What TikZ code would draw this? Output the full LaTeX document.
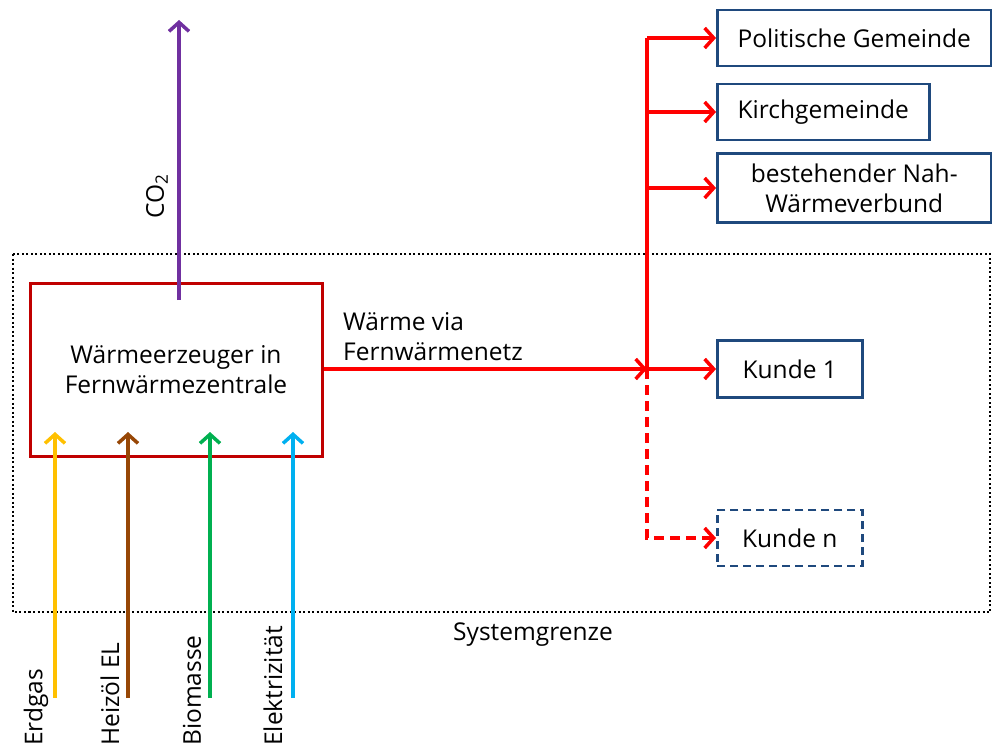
\documentclass[tikz,border=0pt]{standalone}
\usepackage{fontspec}
\setmainfont{Open Sans}
\usetikzlibrary{positioning, arrows.meta}

\definecolor{heatred}{RGB}{255,0,0}
\definecolor{boxred}{RGB}{192,0,0}
\definecolor{custblue}{RGB}{31,73,125}
\definecolor{co2purple}{RGB}{112,48,160}
\definecolor{gasyellow}{RGB}{255,192,0}
\definecolor{oilbrown}{RGB}{151,71,6}
\definecolor{biogreen}{RGB}{0,176,80}
\definecolor{elecblue}{RGB}{0,176,240}

\begin{document}
\begin{tikzpicture}[
    x=1pt,
    y=-1pt,
    >={Straight Barb[length=9pt,width=20pt]},
    font=\fontsize{24.5}{30}\selectfont,
    customer/.style={
        draw=custblue,
        line width=2.5pt,
        align=center,
        inner sep=0pt,
        anchor=west,
    },
    producer/.style={
        draw=boxred,
        line width=3pt,
        align=center,
        minimum width=292pt,
        minimum height=173pt,
    },
    heat/.style={->, draw=heatred, line width=3.5pt},
    feed/.style={->, line width=3.5pt},
    feedtext/.style={rotate=90, anchor=west, inner sep=0pt},
]
\useasboundingbox (0,0) rectangle (992,749);

% --- System boundary ---
\draw[line width=2pt, dash pattern=on 2pt off 2.5pt] (13,254) rectangle (990,612);
\node (grenze) at (533,635) {Systemgrenze};

% --- Heat producer ---
\node[producer] (erz) at (176,370) {Wärmeerzeuger in\\Fernwärmezentrale};

% --- Customers ---
\node[customer, minimum width=274pt, minimum height=56pt] (pg)    at (716,38)  {Politische Gemeinde};
\node[customer, minimum width=212pt, minimum height=56pt] (kg)    at (716,112) {Kirchgemeinde};
\node[customer, minimum width=274pt, minimum height=69pt] (nwv)   at (716,188) {bestehender Nah-\\Wärmeverbund};
\node[customer, minimum width=145pt, minimum height=57pt] (k1)    at (716,369) {Kunde 1};
\node[customer, minimum width=145pt, minimum height=56pt, dash pattern=on 8pt off 5pt,
      anchor=center] (kn) [below=110pt of k1] {Kunde n};

% --- Heat network ---
\coordinate (junction) at (647,369);
\coordinate (trunktop) at (647,38);
\draw[heat] (erz.east |- junction) -- (junction);
\draw[heat, -] (trunktop) -- (junction);
\draw[heat] (trunktop) -- (pg);
\draw[heat] (kg -| junction) -- (kg);
\draw[heat] (nwv -| junction) -- (nwv);
\draw[heat] (junction) -- (k1);
\draw[heat, dash pattern=on 10pt off 6pt] (junction) |- (kn);
\node[anchor=west, align=left, inner sep=0pt] (waerme) at (343,337) {Wärme via\\Fernwärmenetz};

% --- CO2 ---
\coordinate (co2src) at (179,300);
\coordinate (co2tip) at (179,20);
\draw[feed, draw=co2purple] (co2src) -- (co2tip);
\node[rotate=90, inner sep=0pt] (co2) at (157,196) {CO\textsubscript{2}};

% --- Energy inputs ---
\coordinate (gas)  at (55,698);
\coordinate (oil)  at (128,698);
\coordinate (bio)  at (210,698);
\coordinate (elec) at (293,698);
\draw[feed, draw=gasyellow] (gas)  -- (gas |- 0,432);
\draw[feed, draw=oilbrown]  (oil)  -- (oil |- 0,432);
\draw[feed, draw=biogreen]  (bio)  -- (bio |- 0,432);
\draw[feed, draw=elecblue]  (elec) -- (elec |- 0,432);
\node[feedtext] (gastext)  at (36,746)  {Erdgas};
\node[feedtext] (oiltext)  at (110,746) {Heizöl EL};
\node[feedtext] (biotext)  at (192,746) {Biomasse};
\node[feedtext] (electext) at (273,746) {Elektrizität};

\end{tikzpicture}
\end{document}
